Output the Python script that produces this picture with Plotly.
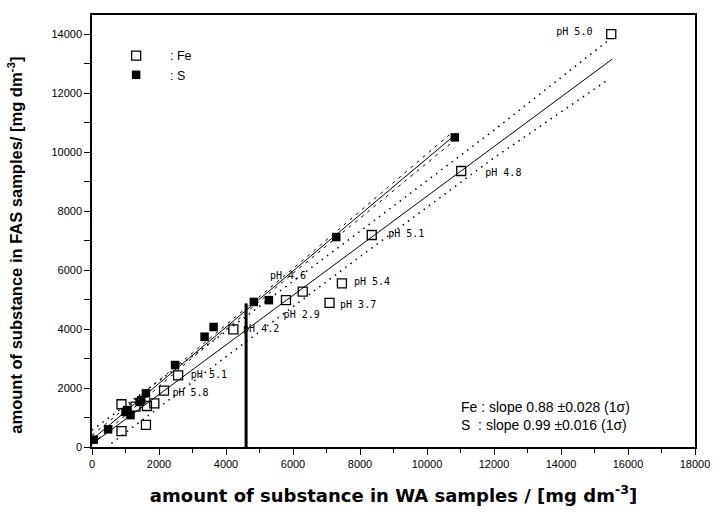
import plotly.graph_objects as go

# ---- data ----
fe_x = [880, 880, 1610, 1300, 1640, 1860, 2150, 2570, 4220, 5790, 6290, 7460, 7090, 8350, 11020, 15500]
fe_y = [1450, 540, 750, 1370, 1390, 1480, 1910, 2430, 3990, 4980, 5270, 5550, 4890, 7190, 9360, 14000]

s_x = [50, 480, 1000, 1150, 1050, 1470, 1610, 1420, 2480, 3360, 3630, 4830, 5280, 7290, 10830]
s_y = [250, 600, 1190, 1080, 1250, 1590, 1820, 1530, 2780, 3740, 4070, 4920, 4980, 7120, 10500]

fe_fit_x = [0, 15525]
fe_fit_y = [100, 13150]
fe_up_x = [0, 4000, 8000, 12000, 15400]
fe_up_y = [570, 3922, 7314, 10746, 13779]
fe_lo_x = [580, 4000, 8000, 12000, 15400]
fe_lo_y = [122, 3062, 6454, 9806, 12450]

s_fit_x = [0, 10750]
s_fit_y = [250, 10500]
s_band_x = [0, 3000, 6000, 9000, 10750]
s_up_y = [400, 3190, 6051, 8952, 10670]
s_lo_y = [100, 3030, 5891, 8712, 10330]

ph_labels = ["pH 5.0", "pH 4.8", "pH 5.1", "pH 4.6", "pH 5.4", "pH 3.7", "pH 2.9", "pH 4.2", "pH 5.1", "pH 5.8"]
ph_x = [13860, 11740, 8840, 5310, 7820, 7405, 5720, 4510, 2950, 2400]
ph_y = [14070, 9290, 7190, 5770, 5590, 4810, 4470, 3970, 2440, 1830]

vline_x = [4600, 4600]
vline_y = [0, 4870]

x_ticks = [0, 2000, 4000, 6000, 8000, 10000, 12000, 14000, 16000, 18000]
y_ticks = [0, 2000, 4000, 6000, 8000, 10000, 12000, 14000]

slope_texts = ["Fe : slope 0.88 ±0.028 (1σ)", "S  : slope 0.99 ±0.016 (1σ)"]
x_title = "<b>amount of substance in WA samples / [mg dm<sup>-3</sup>]</b>"
y_title = "<b>amount of substance in FAS samples/ [mg dm<sup>-3</sup>]</b>"

fig = go.Figure()

# Fe fit and bands
fig.add_trace(go.Scatter(x=fe_fit_x, y=fe_fit_y, mode="lines", line=dict(color="black", width=1), showlegend=False, hoverinfo="skip"))
fig.add_trace(go.Scatter(x=fe_up_x, y=fe_up_y, mode="lines", line=dict(color="black", width=1.5, dash="1.5px,5px"), showlegend=False, hoverinfo="skip"))
fig.add_trace(go.Scatter(x=fe_lo_x, y=fe_lo_y, mode="lines", line=dict(color="black", width=1.5, dash="1.5px,5px"), showlegend=False, hoverinfo="skip"))
# S fit and bands
fig.add_trace(go.Scatter(x=s_fit_x, y=s_fit_y, mode="lines", line=dict(color="black", width=1), showlegend=False, hoverinfo="skip"))
fig.add_trace(go.Scatter(x=s_band_x, y=s_up_y, mode="lines", line=dict(color="black", width=1, dash="3px,5px"), showlegend=False, hoverinfo="skip"))
fig.add_trace(go.Scatter(x=s_band_x, y=s_lo_y, mode="lines", line=dict(color="black", width=1, dash="3px,5px"), showlegend=False, hoverinfo="skip"))

# points
fig.add_trace(go.Scatter(x=fe_x, y=fe_y, mode="markers", name="    : Fe",
                         marker=dict(symbol="square-open", size=9, color="black", line=dict(width=1.3))))
fig.add_trace(go.Scatter(x=s_x, y=s_y, mode="markers", name="    : S",
                         marker=dict(symbol="square", size=8.5, color="black")))

# pH labels
fig.add_trace(go.Scatter(x=ph_x, y=ph_y, mode="text", text=ph_labels, textposition="middle right",
                         textfont=dict(family="DejaVu Sans Mono", size=10, color="black"),
                         showlegend=False, hoverinfo="skip"))

# vertical marker line (drawn over the pH 4.2 label, as in the original)
fig.add_trace(go.Scatter(x=vline_x, y=vline_y, mode="lines", line=dict(color="black", width=3),
                         showlegend=False, hoverinfo="skip"))

fig.update_layout(
    width=722, height=515,
    margin=dict(l=92, r=19, t=15, b=68),
    paper_bgcolor="white", plot_bgcolor="white",
    font=dict(family="Liberation Sans, Arial", color="black"),
    hovermode=False,
    legend=dict(x=0.04, y=0.94, xanchor="left", yanchor="top", bgcolor="rgba(0,0,0,0)",
                font=dict(size=12.5, family="Liberation Sans, Arial"), tracegroupgap=0),
    xaxis=dict(range=[0, 18000], tickvals=x_ticks, ticktext=[str(v) for v in x_ticks],
               showgrid=False, zeroline=False, showline=True, linecolor="black", linewidth=1.5,
               mirror=True, ticks="outside", ticklen=6, tickwidth=1.2, tickcolor="black",
               minor=dict(dtick=1000, ticks="outside", ticklen=4, tickwidth=1, tickcolor="black"),
               tickfont=dict(size=11, family="Liberation Sans Narrow, Liberation Sans, Arial"),
               title=dict(text=x_title, font=dict(size=18, family="DejaVu Sans"), standoff=20)),
    yaxis=dict(range=[0, 14650], tickvals=y_ticks, ticktext=[str(v) for v in y_ticks],
               showgrid=False, zeroline=False, showline=True, linecolor="black", linewidth=1.5,
               mirror=True, ticks="outside", ticklen=6, tickwidth=1.2, tickcolor="black",
               minor=dict(dtick=1000, ticks="outside", ticklen=6, tickwidth=1, tickcolor="black"),
               tickfont=dict(size=11, family="Liberation Sans Narrow, Liberation Sans, Arial")),
)

# y-axis title placed as rotated annotation (slightly below the plot centre, as in the original)
fig.add_annotation(x=-0.128, y=0.468, xref="paper", yref="paper", text=y_title, textangle=-90,
                   showarrow=False, xanchor="center", yanchor="middle",
                   font=dict(size=16.5, family="Liberation Sans, Arial"))

slope_pos = [(0.608, 0.093), (0.608, 0.051)]
for t, (px, py) in zip(slope_texts, slope_pos):
    fig.add_annotation(x=px, y=py, xref="paper", yref="paper", text=t, showarrow=False,
                       xanchor="left", yanchor="middle", font=dict(size=14, family="Liberation Sans, Arial"))

fig.write_html("out.html")
